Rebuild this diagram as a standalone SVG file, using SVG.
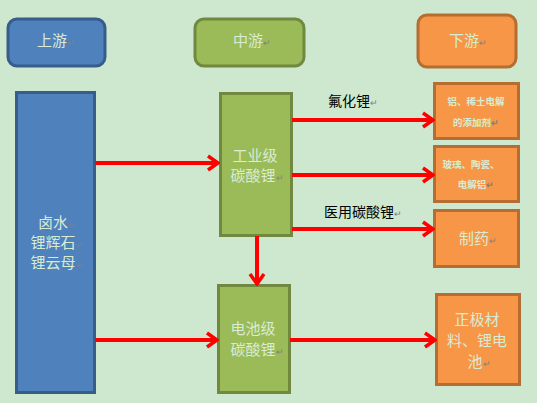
<svg xmlns="http://www.w3.org/2000/svg" width="537" height="403" viewBox="0 0 537 403">
<style>
text{font-family:"Noto Sans CJK SC","Liberation Sans",sans-serif;fill:#d8ecd4;text-anchor:middle}
.lbl{fill:#000;font-size:14px}
.rm{fill:#808080;font-size:9px}
.blue{fill:#4f81bd;stroke:#385d8a;stroke-width:3}
.green{fill:#9bbb59;stroke:#71893f;stroke-width:3}
.orange{fill:#f79646;stroke:#b66d31;stroke-width:3}
.t15{font-size:15px}
.t10{font-size:9.5px;font-weight:bold}
.arr{stroke:#ff0000;stroke-width:4;fill:none;marker-end:url(#ah)}
</style>
<defs>
<marker id="ah" markerUnits="userSpaceOnUse" viewBox="0 0 14 18" refX="12" refY="9" markerWidth="14" markerHeight="18" orient="auto">
<path d="M2,2 L12,9 L2,16" fill="none" stroke="#ff0000" stroke-width="3.5"/>
</marker>
</defs>
<rect width="537" height="403" fill="#cde8cf"/>
<g id="h-up"><rect class="blue" x="8" y="19" width="97" height="47" rx="9"/><text class="t15" x="56" y="46">上游<tspan class="rm">↵</tspan></text></g>
<g id="h-mid"><rect class="green" x="195" y="19" width="109" height="47" rx="9"/><text class="t15" x="252" y="46">中游<tspan class="rm">↵</tspan></text></g>
<g id="h-down"><rect class="orange" x="418" y="15" width="98" height="52" rx="9"/><text class="t15" x="468" y="46">下游<tspan class="rm">↵</tspan></text></g>
<g id="src"><rect class="blue" x="16.5" y="92.5" width="78" height="300"/>
<text class="t15" x="57" y="228">卤水<tspan class="rm">↵</tspan></text>
<text class="t15" x="57" y="248">锂辉石<tspan class="rm">↵</tspan></text>
<text class="t15" x="57" y="268">锂云母<tspan class="rm">↵</tspan></text></g>
<g id="ind"><rect class="green" x="220.5" y="93.5" width="71" height="142"/>
<text class="t15" x="255" y="161">工业级</text>
<text class="t15" x="257" y="181">碳酸锂<tspan class="rm">↵</tspan></text></g>
<g id="bat"><rect class="green" x="218.5" y="285.5" width="71" height="107"/>
<text class="t15" x="253" y="334">电池级</text>
<text class="t15" x="257" y="355">碳酸锂<tspan class="rm">↵</tspan></text></g>
<g id="d1"><rect class="orange" x="434.5" y="83.5" width="84" height="55"/>
<text class="t10" x="476" y="105">铝、稀土电解</text>
<text class="t10" x="476" y="126">的添加剂<tspan class="rm">↵</tspan></text></g>
<g id="d2"><rect class="orange" x="434.5" y="146.5" width="84" height="55"/>
<text class="t10" x="471" y="168">玻璃、陶瓷、</text>
<text class="t10" x="476" y="188">电解铝<tspan class="rm">↵</tspan></text></g>
<g id="d3"><rect class="orange" x="434.5" y="210.5" width="84" height="56"/>
<text class="t15" x="478" y="244">制药<tspan class="rm">↵</tspan></text></g>
<g id="d4"><rect class="orange" x="436.5" y="294.5" width="83" height="90"/>
<text class="t15" x="477" y="325">正极材</text>
<text class="t15" x="477" y="346">料、锂电</text>
<text class="t15" x="479" y="367">池<tspan class="rm">↵</tspan></text></g>
<g id="connectors">
<line class="arr" x1="95" y1="163" x2="218" y2="163"/>
<line class="arr" x1="95" y1="340" x2="217" y2="340"/>
<line class="arr" x1="292" y1="120" x2="433" y2="120"/>
<line class="arr" x1="292" y1="175" x2="433" y2="175"/>
<line class="arr" x1="292" y1="229" x2="433" y2="229"/>
<line class="arr" x1="257" y1="236" x2="257" y2="284"/>
<line class="arr" x1="290" y1="340" x2="435" y2="340"/>
<text class="lbl" x="353" y="106">氟化锂<tspan class="rm">↵</tspan></text>
<text class="lbl" x="363" y="217">医用碳酸锂<tspan class="rm">↵</tspan></text>
</g>
</svg>
